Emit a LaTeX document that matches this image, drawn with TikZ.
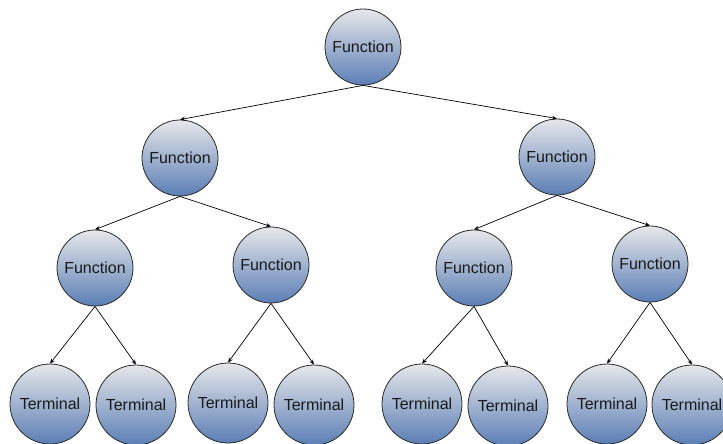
\documentclass[tikz,border=0pt]{standalone}
\usepackage{fontspec}
\setmainfont{Liberation Sans}
\usetikzlibrary{arrows.meta}
\definecolor{ballTop}{HTML}{E6E7EA}
\definecolor{ballMid}{HTML}{B6C2D5}
\definecolor{ballBot}{HTML}{5B7EB5}
\definecolor{rimCol}{HTML}{2A2A2A}
\tikzset{
  x=1pt, y=-1pt,
  ball/.style={circle, draw=rimCol, line width=0.8pt, inner sep=0pt,
    top color=ballTop, middle color=ballMid, bottom color=ballBot,
    font=\fontsize{16}{19}\selectfont, text=black!90},
  fnode/.style={ball, minimum size=76pt},
  tnode/.style={ball, minimum size=80pt},
  link/.style={draw=black, line width=0.7pt, -{Stealth[length=5pt,width=4pt]}}
}
\begin{document}
\begin{tikzpicture}
\useasboundingbox (0,0) rectangle (723,444);
\clip (0,0) rectangle (723,444);
% inner (function) nodes
\node[fnode] (r)  at (363,47)  {Function};
\node[fnode] (a)  at (180,158) {Function};
\node[fnode] (b)  at (557,157) {Function};
\node[fnode] (a1) at (95,268)  {Function};
\node[fnode] (a2) at (271,265) {Function};
\node[fnode] (b1) at (474,268) {Function};
\node[fnode] (b2) at (650,264) {Function};
% leaves
\node[tnode] (t1) at (50,404)  {Terminal};
\node[tnode] (t2) at (136,405) {Terminal};
\node[tnode] (t3) at (228,403) {Terminal};
\node[tnode] (t4) at (314,405) {Terminal};
\node[tnode] (t5) at (422,404) {Terminal};
\node[tnode] (t6) at (508,406) {Terminal};
\node[tnode] (t7) at (607,404) {Terminal};
\node[tnode] (t8) at (692,405) {Terminal};
% edges
\foreach \p/\c in {r/a, r/b, a/a1, a/a2, b/b1, b/b2,
                   a1/t1, a1/t2, a2/t3, a2/t4, b1/t5, b1/t6, b2/t7, b2/t8}
  \draw[link] (\p.south) -- (\c.north);
\end{tikzpicture}
\end{document}
